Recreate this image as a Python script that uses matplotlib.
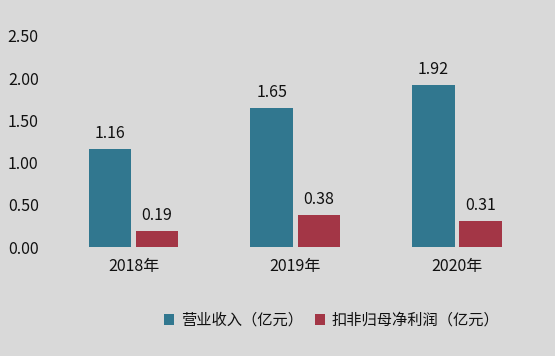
import numpy as np
import matplotlib.pyplot as plt

plt.rcParams['font.family'] = ['Noto Sans CJK SC', 'DejaVu Sans']

years = ['2018年', '2019年', '2020年']
revenue = [1.16, 1.65, 1.92]
net_profit = [0.19, 0.38, 0.31]
series_names = ['营业收入（亿元）', '扣非归母净利润（亿元）']

teal = '#31778f'
red = '#a33646'
bg = '#d9d9d9'

fig = plt.figure(figsize=(5.55, 3.56), dpi=100, facecolor=bg)
ax = fig.add_axes([52.6 / 555, 1 - 247 / 356, (538 - 52.6) / 555, (247 - 36) / 356])
ax.set_facecolor(bg)

x = np.arange(len(years))
w = 0.263
gap = 0.014
b1 = ax.bar(x - w / 2 - gap, revenue, w, color=teal, label=series_names[0])
b2 = ax.bar(x + w / 2 + gap, net_profit, w, color=red, label=series_names[1])

# value labels above bars
for rect, v in zip(b1, revenue):
    ax.text(rect.get_x() + rect.get_width() / 2, v + 0.08, f'{v:.2f}',
            ha='center', va='bottom', fontsize=11.5, color='#111111')
for rect, v in zip(b2, net_profit):
    ax.text(rect.get_x() + rect.get_width() / 2, v + 0.08, f'{v:.2f}',
            ha='center', va='bottom', fontsize=11.5, color='#111111')

ax.set_xlim(-0.5, 2.5)
ax.set_ylim(0, 2.5)
ax.set_yticks([0, 0.5, 1.0, 1.5, 2.0, 2.5])
ax.set_yticklabels([f'{t:.2f}' for t in ax.get_yticks()])
ax.set_xticks(x)
ax.set_xticklabels(years)
ax.tick_params(length=0, labelsize=11.5, colors='#111111')
ax.tick_params(axis='y', pad=10)
ax.tick_params(axis='x', pad=8)
for s in ax.spines.values():
    s.set_visible(False)

leg = fig.legend(loc='center left', bbox_to_anchor=(150 / 555, 1 - 320 / 356), ncol=2,
                 frameon=False, fontsize=11, handlelength=0.7, handleheight=0.7,
                 handletextpad=0.4, columnspacing=0.8)
for t in leg.get_texts():
    t.set_color('#111111')

fig.savefig('out.png', dpi=100, facecolor=bg)
